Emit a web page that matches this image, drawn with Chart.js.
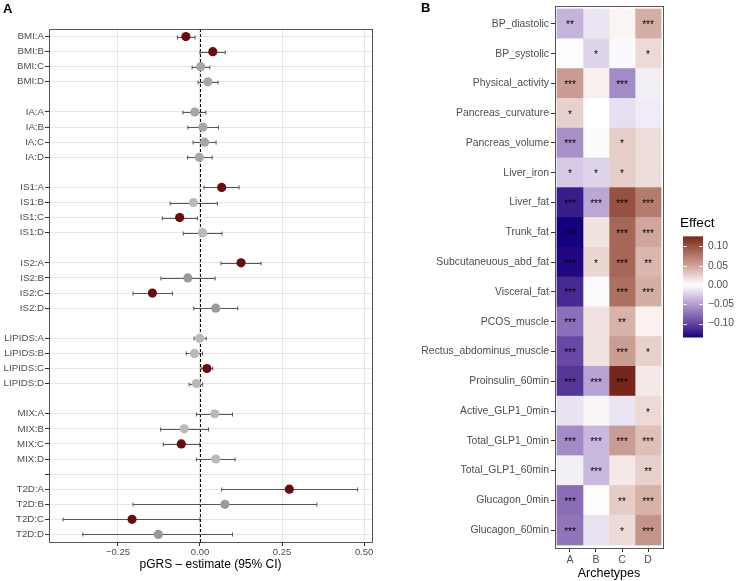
<!DOCTYPE html>
<html>
<head>
<meta charset="utf-8">
<script src="https://cdn.jsdelivr.net/npm/chart.js@4.4.0/dist/chart.umd.min.js"></script>
<style>
  body { margin: 0; background: #fff; width: 740px; height: 581px; position: relative; overflow: hidden; }
  #wrapA { position: absolute; left: 0; top: 0; width: 380px; height: 581px; }
  #wrapB { position: absolute; left: 380px; top: 0; width: 360px; height: 581px; }
</style>
</head>
<body>
<div id="wrapA"><canvas id="chartA"></canvas></div>
<div id="wrapB"><canvas id="chartB"></canvas></div>
<script>
// ---- Panel A data: pGRS estimates per trait x archetype
const traits = ['BMI', 'IA', 'IS1', 'IS2', 'LIPIDS', 'MIX', 'T2D'];
const archetypes = ['A', 'B', 'C', 'D'];
const estimate = [
  -0.043, 0.039, 0.002, 0.024,
  -0.016, 0.009, 0.014, -0.002,
  0.066, -0.020, -0.062, 0.008,
  0.125, -0.037, -0.145, 0.048,
  -0.001, -0.017, 0.021, -0.011,
  0.045, -0.048, -0.057, 0.048,
  0.272, 0.076, -0.207, -0.127
];
const ciLow = [
  -0.069, 0.000, -0.024, -0.006,
  -0.052, -0.037, -0.021, -0.038,
  0.012, -0.091, -0.115, -0.051,
  0.064, -0.119, -0.204, -0.019,
  -0.018, -0.042, 0.003, -0.033,
  -0.011, -0.120, -0.112, -0.011,
  0.066, -0.204, -0.417, -0.357
];
const ciHigh = [
  -0.015, 0.077, 0.030, 0.055,
  0.018, 0.056, 0.049, 0.037,
  0.119, 0.053, -0.008, 0.067,
  0.186, 0.046, -0.084, 0.115,
  0.019, 0.008, 0.039, 0.008,
  0.099, 0.026, -0.001, 0.107,
  0.480, 0.356, 0.000, 0.099
];
// 0 = significant, 1..3 = non significant (gray shades)
const tone = [
  0, 0, 2, 2,
  2, 2, 2, 2,
  0, 3, 0, 3,
  0, 1, 0, 1,
  3, 3, 0, 3,
  3, 3, 0, 3,
  0, 1, 0, 1
];
const xTicksA = [-0.25, 0, 0.25, 0.5];

// ---- Panel B data: effect per phenotype x archetype
const heatRows = ['BP_diastolic', 'BP_systolic', 'Physical_activity', 'Pancreas_curvature', 'Pancreas_volume',
  'Liver_iron', 'Liver_fat', 'Trunk_fat', 'Subcutaneuous_abd_fat', 'Visceral_fat', 'PCOS_muscle',
  'Rectus_abdominus_muscle', 'Proinsulin_60min', 'Active_GLP1_0min', 'Total_GLP1_0min', 'Total_GLP1_60min',
  'Glucagon_0min', 'Glucagon_60min'];
const effectA = [-0.038, 0.001, 0.055, 0.025, -0.057, -0.027, -0.122, -0.136, -0.132, -0.115, -0.075, -0.097, -0.108, -0.014, -0.060, -0.008, -0.076, -0.072];
const effectB = [-0.013, -0.021, 0.008, 0.000, -0.002, -0.021, -0.045, 0.015, 0.022, -0.002, 0.015, 0.015, -0.047, 0.005, -0.036, -0.036, -0.001, -0.014];
const effectC = [0.006, -0.003, -0.060, -0.016, 0.027, 0.027, 0.100, 0.087, 0.087, 0.082, 0.043, 0.055, 0.126, -0.013, 0.055, 0.012, 0.028, 0.020];
const effectD = [0.045, 0.020, -0.008, -0.010, 0.018, 0.018, 0.075, 0.050, 0.040, 0.045, 0.007, 0.025, 0.012, 0.020, 0.035, 0.025, 0.043, 0.060];
const starsA = ['**', '', '***', '*', '***', '*', '***', '***', '***', '***', '***', '***', '***', '', '***', '', '***', '***'];
const starsB = ['', '*', '', '', '', '*', '***', '', '*', '', '', '', '***', '', '***', '***', '', ''];
const starsC = ['', '', '***', '', '*', '*', '***', '***', '***', '***', '**', '***', '***', '', '***', '', '**', '*'];
const starsD = ['***', '*', '', '', '', '', '***', '***', '**', '***', '', '*', '', '*', '***', '**', '***', '***'];
const legendTicks = [0.10, 0.05, 0.00, -0.05, -0.10];

Chart.defaults.font.family = '"Liberation Sans", Arial, Helvetica, sans-serif';
Chart.defaults.color = '#4d4d4d';

// row labels with a blank row between traits
const rowLabels = [];
const points = [];
traits.forEach((t, g) => {
  archetypes.forEach((a, k) => {
    const i = g * 4 + k;
    const lab = t + ':' + a;
    points.push({ x: estimate[i], y: lab, row: rowLabels.length, lo: ciLow[i], hi: ciHigh[i], tone: tone[i] });
    rowLabels.push(lab);
  });
  if (g < traits.length - 1) rowLabels.push('');
});
const toneColors = ['#6b0b0b', '#9a9a9a', '#a6a6a6', '#b9b9b9'];
const gridRow = i => rowLabels[i] !== '' || i === rowLabels.length - 5;

const minus = v => (v < 0 ? '\u2212' : '') + Math.abs(v).toFixed(2);

const forestPlugin = {
  id: 'forest',
  beforeDatasetsDraw(chart) {
    const { ctx, chartArea, scales: { x, y } } = chart;
    ctx.save();
    ctx.strokeStyle = '#000';
    ctx.lineWidth = 1;
    ctx.setLineDash([3, 2]);
    const x0 = Math.round(x.getPixelForValue(0)) + 0.5;
    ctx.beginPath(); ctx.moveTo(x0, chartArea.top); ctx.lineTo(x0, chartArea.bottom); ctx.stroke();
    ctx.setLineDash([]);
    ctx.strokeStyle = '#555';
    points.forEach(p => {
      const yy = Math.round(y.getPixelForValue(p.row)) + 0.5;
      const a = x.getPixelForValue(p.lo), b = x.getPixelForValue(p.hi);
      ctx.beginPath();
      ctx.moveTo(a, yy); ctx.lineTo(b, yy);
      ctx.moveTo(a, yy - 2); ctx.lineTo(a, yy + 2);
      ctx.moveTo(b, yy - 2); ctx.lineTo(b, yy + 2);
      ctx.stroke();
    });
    ctx.restore();
  },
  afterDraw(chart) {
    const { ctx, chartArea } = chart;
    ctx.save();
    ctx.strokeStyle = '#555';
    ctx.lineWidth = 1;
    ctx.strokeRect(Math.round(chartArea.left) + 0.5, Math.round(chartArea.top) + 0.5,
      Math.round(chartArea.right - chartArea.left), Math.round(chartArea.bottom - chartArea.top));
    ctx.fillStyle = '#000';
    ctx.font = 'bold 13px "Liberation Sans", Arial, sans-serif';
    ctx.textBaseline = 'middle';
    ctx.fillText('A', 3, 9);
    ctx.restore();
  }
};

new Chart(document.getElementById('chartA'), {
  type: 'scatter',
  data: {
    datasets: [{
      data: points,
      pointRadius: 4.6,
      pointHoverRadius: 4.6,
      pointBorderWidth: 0,
      pointBackgroundColor: points.map(p => toneColors[p.tone])
    }]
  },
  options: {
    responsive: true,
    maintainAspectRatio: false,
    animation: false,
    layout: { padding: { top: 29, right: 8, left: 0, bottom: 0 } },
    plugins: { legend: { display: false }, tooltip: { enabled: false } },
    scales: {
      x: {
        type: 'linear', min: -0.46, max: 0.524,
        afterBuildTicks: s => { s.ticks = xTicksA.map(v => ({ value: v })); },
        afterFit: s => { s.height = 39; },
        ticks: { callback: v => minus(v), font: { size: 9.5 }, color: '#4d4d4d', padding: 1, maxRotation: 0 },
        grid: { color: '#e6e6e6', tickColor: '#333', tickLength: 4, lineWidth: 1 },
        border: { display: false },
        title: { display: true, text: 'pGRS \u2013 estimate (95% CI)', color: '#000', font: { size: 12 }, padding: { top: 0, bottom: 9 } }
      },
      y: {
        type: 'category', labels: rowLabels, offset: true,
        afterFit: s => { s.width = 49; },
        ticks: { autoSkip: false, font: { size: 9.7 }, color: '#4d4d4d', padding: 1 },
        grid: {
          offset: false, tickLength: 4, lineWidth: 1,
          color: c => gridRow(c.index) ? '#e6e6e6' : 'rgba(0,0,0,0)',
          tickColor: c => gridRow(c.index) ? '#333' : 'rgba(0,0,0,0)'
        },
        border: { display: false }
      }
    }
  },
  plugins: [forestPlugin]
});

// ---- Lab colour interpolation (gradient2: low - white - high)
function hexToRgb(h) { const n = parseInt(h.slice(1), 16); return [(n >> 16) & 255, (n >> 8) & 255, n & 255]; }
function toLin(c) { c /= 255; return c <= 0.04045 ? c / 12.92 : Math.pow((c + 0.055) / 1.055, 2.4); }
function fromLin(c) { const v = c <= 0.0031308 ? 12.92 * c : 1.055 * Math.pow(c, 1 / 2.4) - 0.055; return Math.round(Math.max(0, Math.min(1, v)) * 255); }
function rgbToLab(rgb) {
  const [r, g, b] = rgb.map(toLin);
  const X = (0.4124 * r + 0.3576 * g + 0.1805 * b) / 0.95047;
  const Y = 0.2126 * r + 0.7152 * g + 0.0722 * b;
  const Z = (0.0193 * r + 0.1192 * g + 0.9505 * b) / 1.08883;
  const f = t => t > 0.008856 ? Math.cbrt(t) : 7.787 * t + 16 / 116;
  const fx = f(X), fy = f(Y), fz = f(Z);
  return [116 * fy - 16, 500 * (fx - fy), 200 * (fy - fz)];
}
function labToRgb([L, a, b]) {
  const fy = (L + 16) / 116, fx = fy + a / 500, fz = fy - b / 200;
  const inv = t => t * t * t > 0.008856 ? t * t * t : (t - 16 / 116) / 7.787;
  const X = inv(fx) * 0.95047, Y = inv(fy), Z = inv(fz) * 1.08883;
  const r = 3.2406 * X - 1.5372 * Y - 0.4986 * Z;
  const g = -0.9689 * X + 1.8758 * Y + 0.0415 * Z;
  const bb = 0.0557 * X - 0.2040 * Y + 1.0570 * Z;
  return [fromLin(r), fromLin(g), fromLin(bb)];
}
const LOW = rgbToLab(hexToRgb('#13007e'));
const MID = rgbToLab(hexToRgb('#ffffff'));
const HIGH = rgbToLab(hexToRgb('#6a1209'));
const EXTENT = 0.136;
function effectColor(v) {
  const t = Math.min(1, Math.abs(v) / EXTENT);
  const end = v < 0 ? LOW : HIGH;
  const rgb = labToRgb(MID.map((m, k) => m + t * (end[k] - m)));
  return 'rgb(' + rgb.join(',') + ')';
}

const effects = [effectA, effectB, effectC, effectD];
const stars = [starsA, starsB, starsC, starsD];

const heatPlugin = {
  id: 'heat',
  afterDatasetsDraw(chart) {
    const { ctx } = chart;
    ctx.save();
    ctx.fillStyle = '#000';
    ctx.font = '10px "Liberation Sans", Arial, sans-serif';
    ctx.textAlign = 'center';
    ctx.textBaseline = 'alphabetic';
    chart.data.datasets.forEach((ds, c) => {
      chart.getDatasetMeta(c).data.forEach((el, i) => {
        const s = stars[c][i];
        if (!s) return;
        const p = el.getProps(['x', 'base', 'y'], true);
        ctx.fillText(s, (p.x + p.base) / 2, p.y + 4.5);
      });
    });
    ctx.restore();
  },
  afterDraw(chart) {
    const { ctx, chartArea } = chart;
    ctx.save();
    ctx.strokeStyle = '#555';
    ctx.lineWidth = 1;
    ctx.strokeRect(Math.round(chartArea.left) + 0.5, Math.round(chartArea.top) + 0.5,
      Math.round(chartArea.right - chartArea.left), Math.round(chartArea.bottom - chartArea.top));
    ctx.fillStyle = '#000';
    ctx.font = 'bold 13px "Liberation Sans", Arial, sans-serif';
    ctx.textBaseline = 'middle';
    ctx.fillText('B', 41, 8);

    // colour bar legend
    const bx = 303, bw = 20;
    const ly = v => 285 - v * 386;
    const top = ly(0.126), bottom = ly(-EXTENT);
    const grad = ctx.createLinearGradient(0, top, 0, bottom);
    for (let k = 0; k <= 40; k++) {
      const v = 0.126 - (0.126 + EXTENT) * k / 40;
      grad.addColorStop(k / 40, effectColor(v));
    }
    ctx.fillStyle = grad;
    ctx.fillRect(bx, top, bw, bottom - top);
    ctx.strokeStyle = 'rgba(255,255,255,0.8)';
    ctx.lineWidth = 1;
    legendTicks.forEach(v => {
      const yy = Math.round(ly(v)) + 0.5;
      ctx.beginPath();
      ctx.moveTo(bx, yy); ctx.lineTo(bx + 4, yy);
      ctx.moveTo(bx + bw - 4, yy); ctx.lineTo(bx + bw, yy);
      ctx.stroke();
    });
    ctx.fillStyle = '#4d4d4d';
    ctx.font = '10.3px "Liberation Sans", Arial, sans-serif';
    ctx.textAlign = 'left';
    legendTicks.forEach(v => ctx.fillText(minus(v), bx + bw + 5, ly(v)));
    ctx.fillStyle = '#000';
    ctx.font = '13.6px "Liberation Sans", Arial, sans-serif';
    ctx.fillText('Effect', 300, 223);
    ctx.restore();
  }
};

new Chart(document.getElementById('chartB'), {
  type: 'bar',
  data: {
    datasets: archetypes.map((a, c) => ({
      label: a,
      data: heatRows.map((r, i) => ({ y: i, x: [c - 0.5, c + 0.5] })),
      backgroundColor: effects[c].map(effectColor),
      borderWidth: 0,
      barPercentage: 1,
      categoryPercentage: 1,
      grouped: false
    }))
  },
  options: {
    indexAxis: 'y',
    responsive: true,
    maintainAspectRatio: false,
    animation: false,
    layout: { padding: { top: 6, right: 77, left: 0, bottom: 0 } },
    plugins: { legend: { display: false }, tooltip: { enabled: false } },
    scales: {
      x: {
        type: 'linear', min: -0.575, max: 3.575,
        afterBuildTicks: s => { s.ticks = archetypes.map((a, k) => ({ value: k })); },
        afterFit: s => { s.height = 33; s.paddingLeft = 0; s.paddingRight = 0; },
        ticks: { callback: v => archetypes[v], font: { size: 10.5 }, color: '#4d4d4d', padding: 2, maxRotation: 0 },
        grid: { color: '#ebebeb', tickColor: '#333', tickLength: 4 },
        border: { display: false },
        title: { display: true, text: 'Archetypes', color: '#000', font: { size: 12.5 }, padding: { top: 0, bottom: 0 } }
      },
      y: {
        type: 'linear', min: -0.6, max: 17.6, reverse: true, offset: false,
        afterBuildTicks: s => { s.ticks = heatRows.map((r, k) => ({ value: k })); },
        afterFit: s => { s.width = 175; s.paddingTop = 0; s.paddingBottom = 0; },
        ticks: { callback: v => heatRows[v], autoSkip: false, font: { size: 10.4 }, color: '#4d4d4d', padding: 2 },
        grid: { offset: false, color: '#ebebeb', tickColor: '#333', tickLength: 4 },
        border: { display: false }
      }
    }
  },
  plugins: [heatPlugin]
});
</script>
</body>
</html>
